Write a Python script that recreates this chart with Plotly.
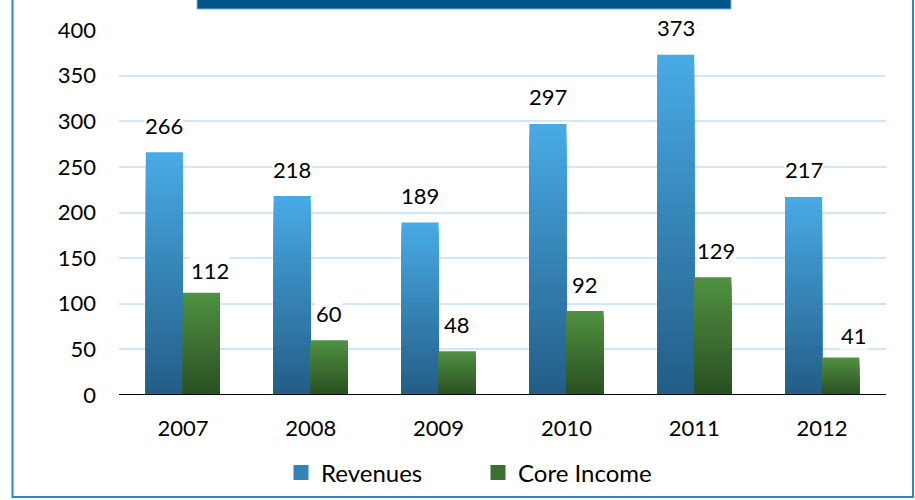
import plotly.graph_objects as go

years = ["2007", "2008", "2009", "2010", "2011", "2012"]
revenues = [266, 218, 189, 297, 373, 217]
core_income = [112, 60, 48, 92, 129, 41]

# (top colour, bottom colour) for the vertical gradient of each series
series = [
    ("Revenues", revenues, (72, 170, 228), (35, 94, 136), -0.29),
    ("Core Income", core_income, (80, 144, 66), (42, 80, 33), 0.0),
]
# a few of the source labels sit off-centre
label_nudge = {
    ("Core Income", "2007"): (9, -5),
    ("Core Income", "2011"): (3, 0),
    ("Core Income", "2012"): (13, -5),
}

FONT = "Lato, 'Open Sans', sans-serif"
N_LAYERS = 32
BAR_W = 0.29

W, H = 915, 500
ML, MR, MT, MB = 119, 29, 30, 105
PLOT_W = W - ML - MR
PLOT_H = H - MT - MB


def mix(c0, c1, t):
    return "rgb(%d,%d,%d)" % tuple(round(a + (b - a) * t) for a, b in zip(c0, c1))


def px_x(page_x):
    return (page_x - ML) / PLOT_W


def px_y(page_y):
    return (H - MB - page_y) / PLOT_H


fig = go.Figure()

# Each bar is drawn as stacked-over layers of shrinking height and darkening
# colour, which fakes the top-to-bottom gradient of the original.
for name, values, top, bottom, offset in series:
    for k in range(N_LAYERS):
        frac = 1 - k / N_LAYERS
        fig.add_trace(
            go.Bar(
                x=years,
                y=[v * frac for v in values],
                offset=offset,
                width=BAR_W,
                marker=dict(color=mix(top, bottom, k / (N_LAYERS - 1)), line=dict(width=0)),
                name=name,
                legendgroup=name,
                showlegend=False,
                hoverinfo="skip",
            )
        )

# legend swatches: bigger squares than the bar legend glyph
for name, values, top, bottom, offset in series:
    fig.add_trace(
        go.Scatter(
            x=[None],
            y=[None],
            mode="markers",
            marker=dict(symbol="square", size=15, color=mix(top, bottom, 0.5)),
            name=name,
            legendgroup=name,
            showlegend=True,
        )
    )

annotations = []
for name, values, top, bottom, offset in series:
    for i, (yr, v) in enumerate(zip(years, values)):
        dx, dy = label_nudge.get((name, yr), (0, 0))
        annotations.append(
            dict(
                x=i,
                y=v,
                xref="x",
                yref="y",
                text=str(v),
                showarrow=False,
                xshift=(offset + BAR_W / 2) * PLOT_W / len(years) + dx,
                yshift=27 + dy,
                bgcolor="white",
                borderpad=0,
                font=dict(family=FONT, size=22, color="black"),
            )
        )

fig.update_layout(
    width=W,
    height=H,
    barmode="overlay",
    paper_bgcolor="white",
    plot_bgcolor="white",
    margin=dict(l=ML, r=MR, t=MT, b=MB, autoexpand=False),
    font=dict(family=FONT, size=22, color="black"),
    annotations=annotations,
    xaxis=dict(
        type="category",
        range=[-0.5, 5.5],
        showgrid=False,
        showline=False,
        ticks="",
        ticklabelstandoff=18,
        zeroline=False,
        automargin=False,
        fixedrange=True,
    ),
    yaxis=dict(
        range=[0, 400],
        tickvals=[0, 50, 100, 150, 200, 250, 300, 350, 400],
        showgrid=True,
        gridcolor="#d2e7f5",
        gridwidth=2,
        zeroline=False,
        showline=False,
        ticks="",
        ticklabelstandoff=22,
        automargin=False,
        fixedrange=True,
    ),
    legend=dict(
        orientation="h",
        x=px_x(478),
        xanchor="center",
        y=px_y(473),
        yanchor="middle",
        entrywidth=152,
        font=dict(family=FONT, size=24),
        itemwidth=30,
        traceorder="normal",
    ),
    shapes=[
        # zero line
        dict(type="line", xref="paper", yref="y", x0=0, x1=1, y0=0, y1=0,
             line=dict(color="black", width=2), layer="above"),
        # title banner peeking in at the top
        dict(type="rect", xref="paper", yref="paper", x0=px_x(197), x1=px_x(731),
             y0=px_y(9), y1=px_y(-10), fillcolor="#03568b",
             line=dict(color="#7fb3d6", width=1)),
        # outer frame
        dict(type="rect", xref="paper", yref="paper", x0=px_x(12.5), x1=px_x(913),
             y0=px_y(497), y1=px_y(-20), fillcolor="rgba(0,0,0,0)",
             line=dict(color="#2b87c6", width=2)),
    ],
    showlegend=True,
)

# drop the default body margin so the figure fills the 915x500 window
fig.write_html(
    "out.html",
    config={"displayModeBar": False},
    post_script="document.body.style.margin = '0px';",
)
